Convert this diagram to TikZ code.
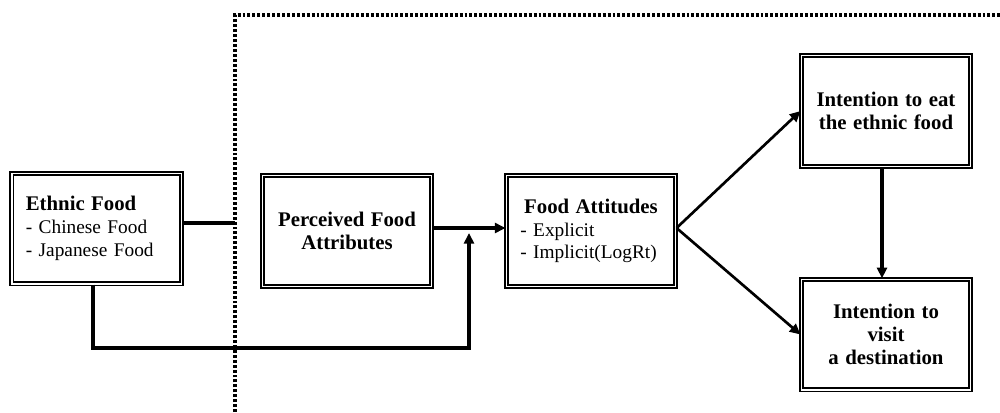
\documentclass[tikz,border=0pt]{standalone}
\usepackage{fontspec}
\setmainfont{Liberation Serif}
\usetikzlibrary{arrows.meta,calc}
\newcommand{\hd}[1]{{\fontsize{15.6}{17}\selectfont\textbf{#1}}}
\begin{document}
\begin{tikzpicture}[x=0.75pt,y=-0.75pt,
  box/.style={draw, double, double distance=1pt, line width=1.3pt,
    minimum width=127pt, minimum height=83pt, inner xsep=10.5pt, inner ysep=0pt,
    text width=106pt, font=\fontsize{14.5}{17}\selectfont},
  conn/.style={draw, line width=2.7pt},
  thin/.style={draw, line width=2pt},
  tip/.style={-{Triangle[length=8pt,width=7.5pt]}},
  dotline/.style={draw, line width=2.4pt, dash pattern=on 2.2pt off 1.5pt}]
\useasboundingbox (0,0) rectangle (1000,412);

% boxes
\node[box, align=left] (ethnic) at (96.5,228.5)
  {\hd{Ethnic Food}\\- Chinese Food\\- Japanese Food};
\node[box, align=center] (perceived) at (347,231)
  {\hd{Perceived Food}\\\hd{Attributes}};
\node[box, align=left] (attitudes) at (591,231)
  {\makebox[\linewidth][c]{\hd{Food Attitudes}}\\- Explicit\\- Implicit(LogRt)};
\node[box, align=center] (eat) at (886,111)
  {\hd{Intention to eat}\\\hd{the ethnic food}};
\node[box, align=center] (visit) at (886,334.5)
  {\hd{Intention to}\\\hd{visit}\\\hd{a destination}};

% dotted boundary
\coordinate (corner) at (235,15);
\coordinate (dotbottom) at (235,412);
\coordinate (dotright) at (1000,15);
\path[dotline] (dotbottom) -- (corner) -- (dotright);

% helper points
\coordinate (gate) at (235,223);
\coordinate (merge) at (469,228);
\coordinate (low) at (469,348);

% connectors
\path[conn] (ethnic.east |- gate) -- (gate);
\path[conn, tip] (perceived.east |- merge) -- (attitudes.west |- merge);
\path[conn, tip] ($(ethnic.south)+(-3.5,0)$) |- (low) -- ($(merge)+(0,5)$);
\path[thin, tip] (attitudes.east |- merge) -- (eat.west);
\path[thin, tip] (attitudes.east |- merge) -- (visit.west);
\path[conn, tip] ($(eat.south)+(-4,0)$) -- ($(visit.north)+(-4,0)$);
\end{tikzpicture}
\end{document}
